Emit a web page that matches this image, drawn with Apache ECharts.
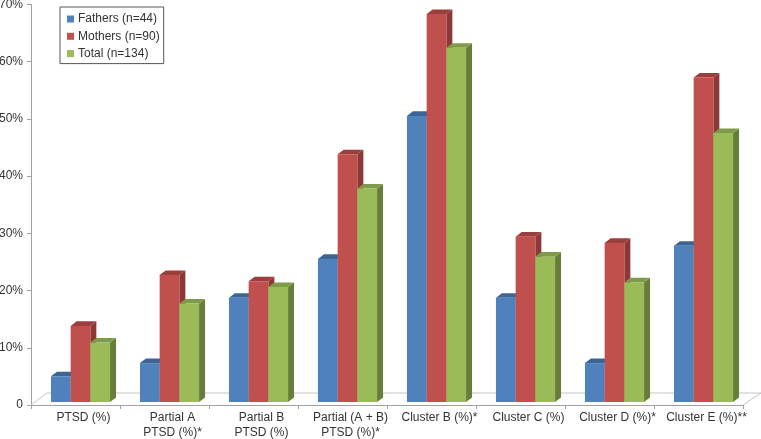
<!DOCTYPE html>
<html><head><meta charset="utf-8">
<style>html,body{margin:0;padding:0;background:#fff}#c{width:761px;height:439px}</style>
<script src="https://cdn.jsdelivr.net/npm/echarts@6/dist/echarts.min.js"></script>
</head><body><div id="c"></div>
<script>
const categories = ['PTSD (%)','Partial A\nPTSD (%)*','Partial B\nPTSD (%)','Partial (A + B)\nPTSD (%)*','Cluster B (%)*','Cluster C (%)','Cluster D (%)*','Cluster E (%)**'];
const fathers = [4.5,6.8,18.2,25,50,18.2,6.8,27.3];
const mothers = [13.3,22.2,21.1,43.3,67.8,28.9,27.8,56.7];
const total = [10.4,17.2,20.1,37.3,61.9,25.4,20.9,47];
const seriesNames = ['Fathers (n=44)','Mothers (n=90)','Total (n=134)'];
const tickLabels = {0:'0',10:'10%',20:'20%',30:'30%',40:'40%',50:'50%',60:'60%',70:'70%'};

const barW = 19.7, depthX = 6, depthY = 4.6, baseLift = 3, groupShift = 5;
const looks = [
  {front:'#4f81bd', top:'#3c6494', side:'#385d8a'},
  {front:'#c0504d', top:'#9b3f3c', side:'#8c3836'},
  {front:'#9bbb59', top:'#7f9a48', side:'#677e3b'}
];
function barSeries(name, values, idx){
  const look = looks[idx];
  return {
    type:'custom', name, clip:false, z:3,
    itemStyle:{color:look.front},
    encode:{x:0,y:1},
    data: values.map((v,i)=>[i,v]),
    renderItem(params, api){
      const c = api.coord([api.value(0), api.value(1)]);
      const b = api.coord([api.value(0), 0]);
      const x0 = c[0] + groupShift + (idx-1.5)*barW;
      const x1 = x0 + barW;
      const yt = c[1] - baseLift, yb = b[1] - baseLift;
      return {type:'group', children:[
        {type:'polygon', shape:{points:[[x1,yt],[x1+depthX,yt-depthY],[x1+depthX,yb-depthY],[x1,yb]]}, style:{fill:look.side}},
        {type:'polygon', shape:{points:[[x0,yt],[x0+depthX,yt-depthY],[x1+depthX,yt-depthY],[x1,yt]]}, style:{fill:look.top}},
        {type:'rect', shape:{x:x0,y:yt,width:barW,height:yb-yt}, style:{fill:look.front}}
      ]};
    }
  };
}
const floorSeries = {
  type:'custom', name:'floor', silent:true, clip:false, z:1,
  data:[[0,0]], encode:{x:0,y:1},
  renderItem(params, api){
    const s = params.coordSys, y0 = s.y + s.height, yb = y0 - 12;
    const st = {stroke:'#c4c4c4', lineWidth:1, fill:null};
    return {type:'group', children:[
      {type:'polyline', shape:{points:[[s.x,y0],[s.x+16,yb],[s.x+s.width+18,yb]]}, style:st},
      {type:'line', shape:{x1:s.x+s.width,y1:y0,x2:s.x+s.width+18,y2:yb}, style:st}
    ]};
  }
};
const chart = echarts.init(document.getElementById('c'), null, {renderer:'canvas'});
chart.setOption({
  animation:false,
  color:looks.map(l=>l.front),
  textStyle:{fontFamily:'"Liberation Sans", Arial, sans-serif'},
  grid:{left:31,right:18,top:4.5,bottom:34,containLabel:false,outerBoundsMode:'none'},
  legend:{
    left:60, top:7, orient:'vertical', data:seriesNames,
    icon:'rect', itemWidth:7, itemHeight:7, itemGap:5.3,
    padding:[6,4,4,7], borderColor:'#555', borderWidth:1, backgroundColor:'#fff',
    textStyle:{fontSize:12,color:'#333',padding:[0,0,0,-1],width:78,height:13}
  },
  xAxis:{
    type:'category', data:categories,
    axisLine:{lineStyle:{color:'#a0a0a0',width:1}},
    axisTick:{show:true,alignWithLabel:false,length:4,lineStyle:{color:'#a0a0a0'}},
    axisLabel:{fontSize:12,color:'#333',interval:0,lineHeight:15,margin:5,padding:[0,0,0,16],hideOverlap:false}
  },
  yAxis:{
    type:'value', min:0, max:70, interval:10,
    axisLine:{show:true,lineStyle:{color:'#a0a0a0',width:1}},
    axisTick:{show:true,length:4,lineStyle:{color:'#a0a0a0'}},
    splitLine:{show:false},
    axisLabel:{fontSize:12,color:'#333',margin:8,formatter:v=>tickLabels[v]}
  },
  series:[floorSeries, barSeries(seriesNames[0],fathers,0), barSeries(seriesNames[1],mothers,1), barSeries(seriesNames[2],total,2)]
});
</script></body></html>
